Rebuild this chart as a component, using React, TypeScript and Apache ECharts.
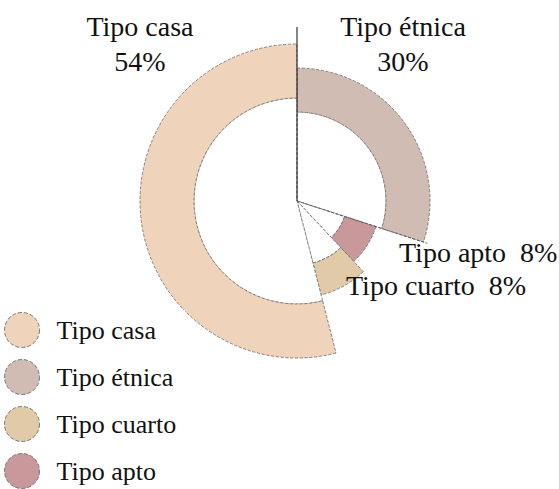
import React, { useEffect, useRef } from "react";
import * as echarts from "echarts";

// Data (clockwise from 12 o'clock)
const categories = ["Tipo étnica", "Tipo apto", "Tipo cuarto", "Tipo casa"];
const percents = [30, 8, 8, 54];
const legendOrder = ["Tipo casa", "Tipo étnica", "Tipo cuarto", "Tipo apto"];

// Styling (kept apart from the data)
const sliceColors: Record<string, string> = {
  "Tipo étnica": "#D0BCB3",
  "Tipo apto": "#C8989B",
  "Tipo cuarto": "#E1CAA8",
  "Tipo casa": "#EFD3BA",
};
const ringRadii: Record<string, [number, number]> = {
  "Tipo étnica": [89, 133],
  "Tipo apto": [50, 83],
  "Tipo cuarto": [64, 97],
  "Tipo casa": [103, 157],
};
const labelLayout: Record<string, { x: number; y: number; align: string; twoLines: boolean }> = {
  "Tipo casa": { x: 140, y: 44, align: "center", twoLines: true },
  "Tipo étnica": { x: 403, y: 44, align: "center", twoLines: true },
  "Tipo apto": { x: 399, y: 252, align: "left", twoLines: false },
  "Tipo cuarto": { x: 346, y: 285, align: "left", twoLines: false },
};

const CX = 297;
const CY = 201;
const FONT = "Times New Roman, Liberation Serif, serif";
const BORDER = { borderColor: "#6b6b6b", borderWidth: 0.8, borderType: "dashed" as const };

export default function App() {
  const ref = useRef<HTMLDivElement>(null);

  useEffect(() => {
    if (!ref.current) return;
    const chart = echarts.init(ref.current, undefined, { renderer: "svg" });

    const total = percents.reduce((a, b) => a + b, 0);
    const angleAt = (k: number) =>
      (percents.slice(0, k).reduce((a, b) => a + b, 0) / total) * 360;
    const pt = (deg: number, r: number) => {
      const rad = (deg * Math.PI) / 180;
      return [CX + r * Math.sin(rad), CY - r * Math.cos(rad)];
    };

    const common = {
      type: "pie",
      center: [CX, CY],
      silent: true,
      clockwise: true,
      startAngle: 90,
      label: { show: false },
      labelLine: { show: false },
      emphasis: { disabled: true },
    };

    const series: any[] = [];
    categories.forEach((name, i) => {
      const [r0, r1] = ringRadii[name];
      const mk = (fill: string) =>
        categories.map((n, j) => ({
          name: n,
          value: percents[j],
          itemStyle:
            j === i
              ? { color: fill, ...BORDER }
              : { color: "rgba(0,0,0,0)", borderWidth: 0 },
        }));
      series.push({ ...common, radius: [0, r0], data: mk("#ffffff") });
      series.push({ ...common, radius: [r0, r1], data: mk(sliceColors[name]) });
    });

    const graphics: any[] = [];
    // separator lines
    const top = pt(0, 174);
    graphics.push({
      type: "line",
      z: 10,
      shape: { x1: CX, y1: CY, x2: top[0], y2: top[1] },
      style: { stroke: "#222", lineWidth: 1.1 },
    });
    const etEnd = pt(angleAt(1), 137);
    graphics.push({
      type: "line",
      z: 10,
      shape: { x1: CX, y1: CY, x2: etEnd[0], y2: etEnd[1] },
      style: { stroke: "#555", lineWidth: 0.9, lineDash: [3, 1.5] },
    });

    categories.forEach((name, i) => {
      const l = labelLayout[name];
      const text = l.twoLines ? `${name}\n${percents[i]}%` : `${name}  ${percents[i]}%`;
      graphics.push({
        type: "text",
        z: 20,
        x: l.x,
        y: l.y,
        style: {
          text,
          fill: "#111",
          fontSize: 28,
          fontFamily: FONT,
          lineHeight: 35,
          align: l.align,
          verticalAlign: "middle",
        },
      });
    });

    chart.setOption({
      animation: false,
      backgroundColor: "#ffffff",
      legend: {
        orient: "vertical",
        left: 0,
        top: 310,
        height: 240,
        padding: [2, 9, 0, 4],
        backgroundColor: "#ffffff",
        icon: "circle",
        itemWidth: 59,
        itemHeight: 35,
        itemGap: 11,
        symbolKeepAspect: true,
        selectedMode: false,
        textStyle: { fontFamily: FONT, fontSize: 26, lineHeight: 30, color: "#111" },
        data: legendOrder.map((n) => ({
          name: n,
          itemStyle: { color: sliceColors[n], ...BORDER, borderColor: "#777", borderWidth: 1 },
        })),
      },
      series,
      graphic: graphics,
    });

    return () => chart.dispose();
  }, []);

  return (
    <div
      ref={ref}
      style={{ position: "fixed", left: 0, top: 0, width: 559, height: 489, background: "#fff" }}
    />
  );
}
